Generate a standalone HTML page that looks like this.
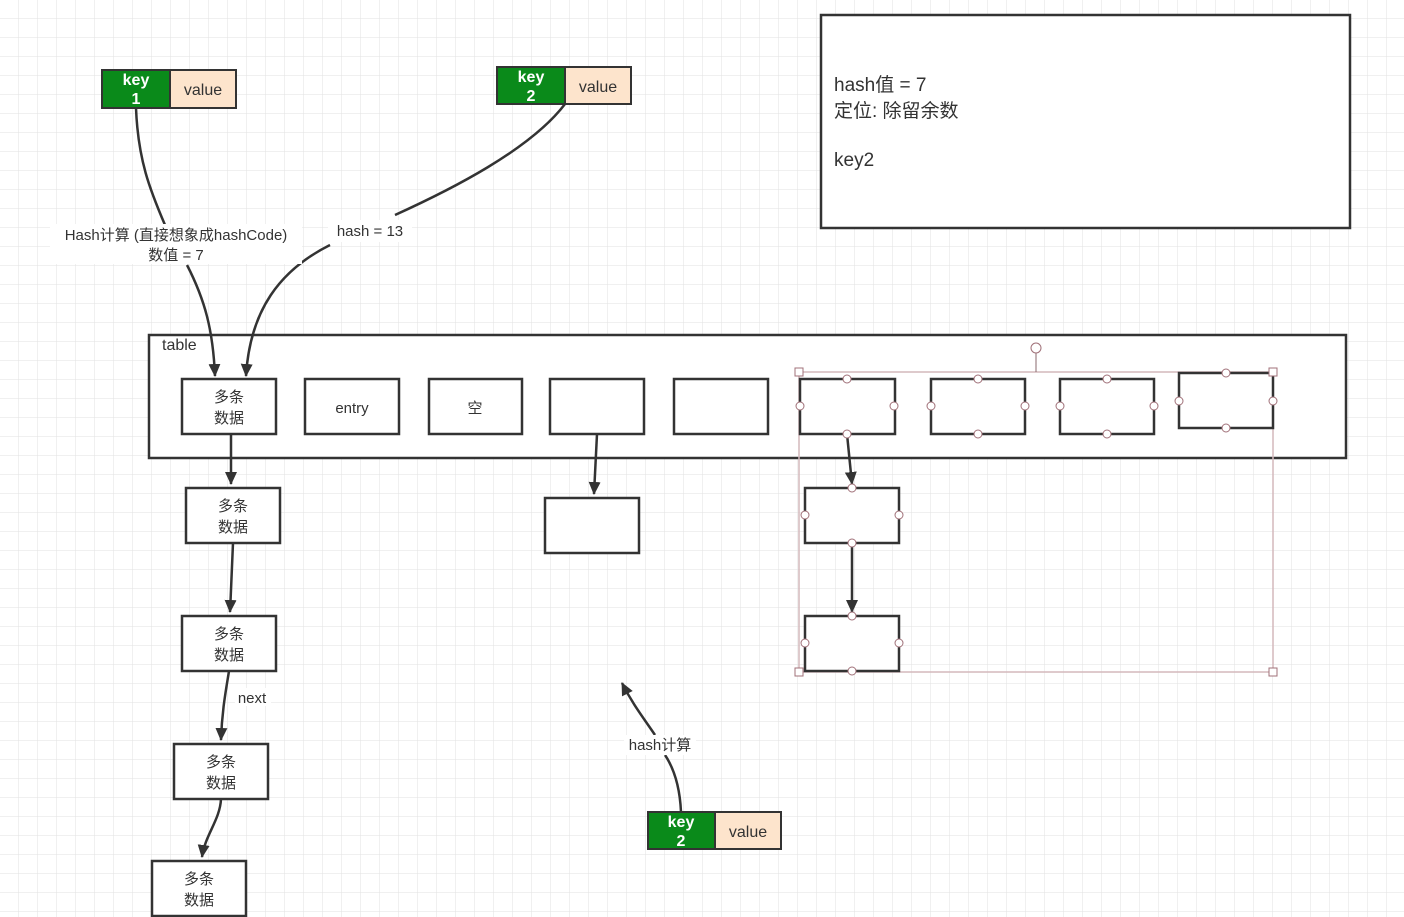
<!DOCTYPE html>
<html><head><meta charset="utf-8"><style>
html,body{margin:0;padding:0;width:1404px;height:917px;overflow:hidden;background:#fff}
svg text{font-family:"Liberation Sans","Noto Sans CJK SC",sans-serif;fill:#333}
</style></head><body>
<svg width="1404" height="917" xmlns="http://www.w3.org/2000/svg">
<defs>
<pattern id="g" width="19" height="19" patternUnits="userSpaceOnUse"><path d="M19 0V19H0" fill="none" stroke="#e2e2e2" stroke-width="1"/></pattern>
<marker id="b" markerWidth="14" markerHeight="14" refX="12" refY="6" orient="auto" markerUnits="userSpaceOnUse"><path d="M0,0L13,6L0,12Z" fill="#333"/></marker>
</defs>
<rect width="1404" height="917" fill="url(#g)"/>
<g stroke="#333" stroke-width="2.5" fill="#fff">
<rect x="821" y="15" width="529" height="213"/>
<rect x="149" y="335" width="1197" height="123"/>
</g>
<text x="834" y="91" font-size="19">hash值 = 7</text>
<text x="834" y="117" font-size="19">定位:  除留余数</text>
<text x="834" y="166" font-size="19">key2</text>
<text x="162" y="350" font-size="16">table</text>
<g stroke="#333" stroke-width="2">
<rect x="102" y="70" width="68" height="38" fill="#0a8a1a"/><rect x="170" y="70" width="66" height="38" fill="#fde4cc"/>
<rect x="497" y="67" width="68" height="37" fill="#0a8a1a"/><rect x="565" y="67" width="66" height="37" fill="#fde4cc"/>
<rect x="648" y="812" width="67" height="37" fill="#0a8a1a"/><rect x="715" y="812" width="66" height="37" fill="#fde4cc"/>
</g>
<g font-size="16" text-anchor="middle">
<text x="136" y="85" font-weight="bold" style="fill:#fff">key</text><text x="136" y="104" font-weight="bold" style="fill:#fff">1</text><text x="203" y="95">value</text>
<text x="531" y="82" font-weight="bold" style="fill:#fff">key</text><text x="531" y="101" font-weight="bold" style="fill:#fff">2</text><text x="598" y="92">value</text>
<text x="681" y="827" font-weight="bold" style="fill:#fff">key</text><text x="681" y="846" font-weight="bold" style="fill:#fff">2</text><text x="748" y="837">value</text>
</g>
<rect x="799" y="372" width="474" height="300" fill="none" stroke="#d4b8bc" stroke-width="1.5"/>
<line x1="1036" y1="348" x2="1036" y2="372" stroke="#8a6a6e" stroke-width="1"/>
<g stroke="#333" stroke-width="2.5" fill="#fff">
<rect x="182" y="379" width="94" height="55"/><rect x="305" y="379" width="94" height="55"/>
<rect x="429" y="379" width="93" height="55"/><rect x="550" y="379" width="94" height="55"/>
<rect x="674" y="379" width="94" height="55"/><rect x="800" y="379" width="95" height="55"/>
<rect x="931" y="379" width="94" height="55"/><rect x="1060" y="379" width="94" height="55"/>
<rect x="1179" y="373" width="94" height="55"/>
<rect x="186" y="488" width="94" height="55"/><rect x="182" y="616" width="94" height="55"/>
<rect x="174" y="744" width="94" height="55"/><rect x="152" y="861" width="94" height="55"/>
<rect x="545" y="498" width="94" height="55"/>
<rect x="805" y="488" width="94" height="55"/><rect x="805" y="616" width="94" height="55"/>
</g>
<g font-size="15" text-anchor="middle">
<text x="229" y="402">多条</text><text x="229" y="423">数据</text>
<text x="352" y="413">entry</text><text x="475" y="413">空</text>
<text x="233" y="511">多条</text><text x="233" y="532">数据</text>
<text x="229" y="639">多条</text><text x="229" y="660">数据</text>
<text x="221" y="767">多条</text><text x="221" y="788">数据</text>
<text x="199" y="884">多条</text><text x="199" y="905">数据</text>
</g>
<g fill="none" stroke="#333" stroke-width="2.5">
<path d="M136,108 C138,160 150,190 165,225" />
<path d="M187,265 C205,300 213,330 215,376" marker-end="url(#b)"/>
<path d="M565,104 C530,150 450,190 395,215"/>
<path d="M330,245 C280,270 250,310 246,376" marker-end="url(#b)"/>
<path d="M231,434 L231,484" marker-end="url(#b)"/>
<path d="M233,543 C232,570 231,590 230,612" marker-end="url(#b)"/>
<path d="M229,671 C226,690 222,710 221,740" marker-end="url(#b)"/>
<path d="M221,799 C220,820 205,835 202,857" marker-end="url(#b)"/>
<path d="M597,434 L594,494" marker-end="url(#b)"/>
<path d="M847,434 L852,484" marker-end="url(#b)"/>
<path d="M852,543 L852,612" marker-end="url(#b)"/>
<path d="M681,812 C680,790 675,770 665,755"/>
<path d="M655,735 C645,720 633,705 622,683" marker-end="url(#b)"/>
</g>
<rect x="50" y="224" width="252" height="40" fill="#fff"/>
<text x="176" y="240" font-size="15" text-anchor="middle">Hash计算 (直接想象成hashCode)</text>
<text x="176" y="260" font-size="15" text-anchor="middle">数值 = 7</text>
<rect x="328" y="220" width="84" height="22" fill="#fff"/>
<text x="370" y="236" font-size="15" text-anchor="middle">hash = 13</text>
<rect x="235" y="688" width="36" height="18" fill="#fff"/>
<text x="252" y="703" font-size="15" text-anchor="middle">next</text>
<rect x="624" y="735" width="72" height="20" fill="#fff"/>
<text x="660" y="750" font-size="15" text-anchor="middle">hash计算</text>
<g fill="#fff" stroke="#a07078" stroke-width="1">
<rect x="795" y="368" width="8" height="8"/><rect x="1269" y="368" width="8" height="8"/>
<rect x="795" y="668" width="8" height="8"/><rect x="1269" y="668" width="8" height="8"/>
<circle cx="1036" cy="348" r="5"/>
<circle cx="847" cy="379" r="4"/><circle cx="847" cy="434" r="4"/><circle cx="800" cy="406" r="4"/><circle cx="894" cy="406" r="4"/>
<circle cx="978" cy="379" r="4"/><circle cx="978" cy="434" r="4"/><circle cx="931" cy="406" r="4"/><circle cx="1025" cy="406" r="4"/>
<circle cx="1107" cy="379" r="4"/><circle cx="1107" cy="434" r="4"/><circle cx="1060" cy="406" r="4"/><circle cx="1154" cy="406" r="4"/>
<circle cx="1226" cy="373" r="4"/><circle cx="1226" cy="428" r="4"/><circle cx="1179" cy="401" r="4"/><circle cx="1273" cy="401" r="4"/>
<circle cx="852" cy="488" r="4"/><circle cx="852" cy="543" r="4"/><circle cx="805" cy="515" r="4"/><circle cx="899" cy="515" r="4"/>
<circle cx="852" cy="616" r="4"/><circle cx="852" cy="671" r="4"/><circle cx="805" cy="643" r="4"/><circle cx="899" cy="643" r="4"/>
</g>
</svg>
</body></html>
